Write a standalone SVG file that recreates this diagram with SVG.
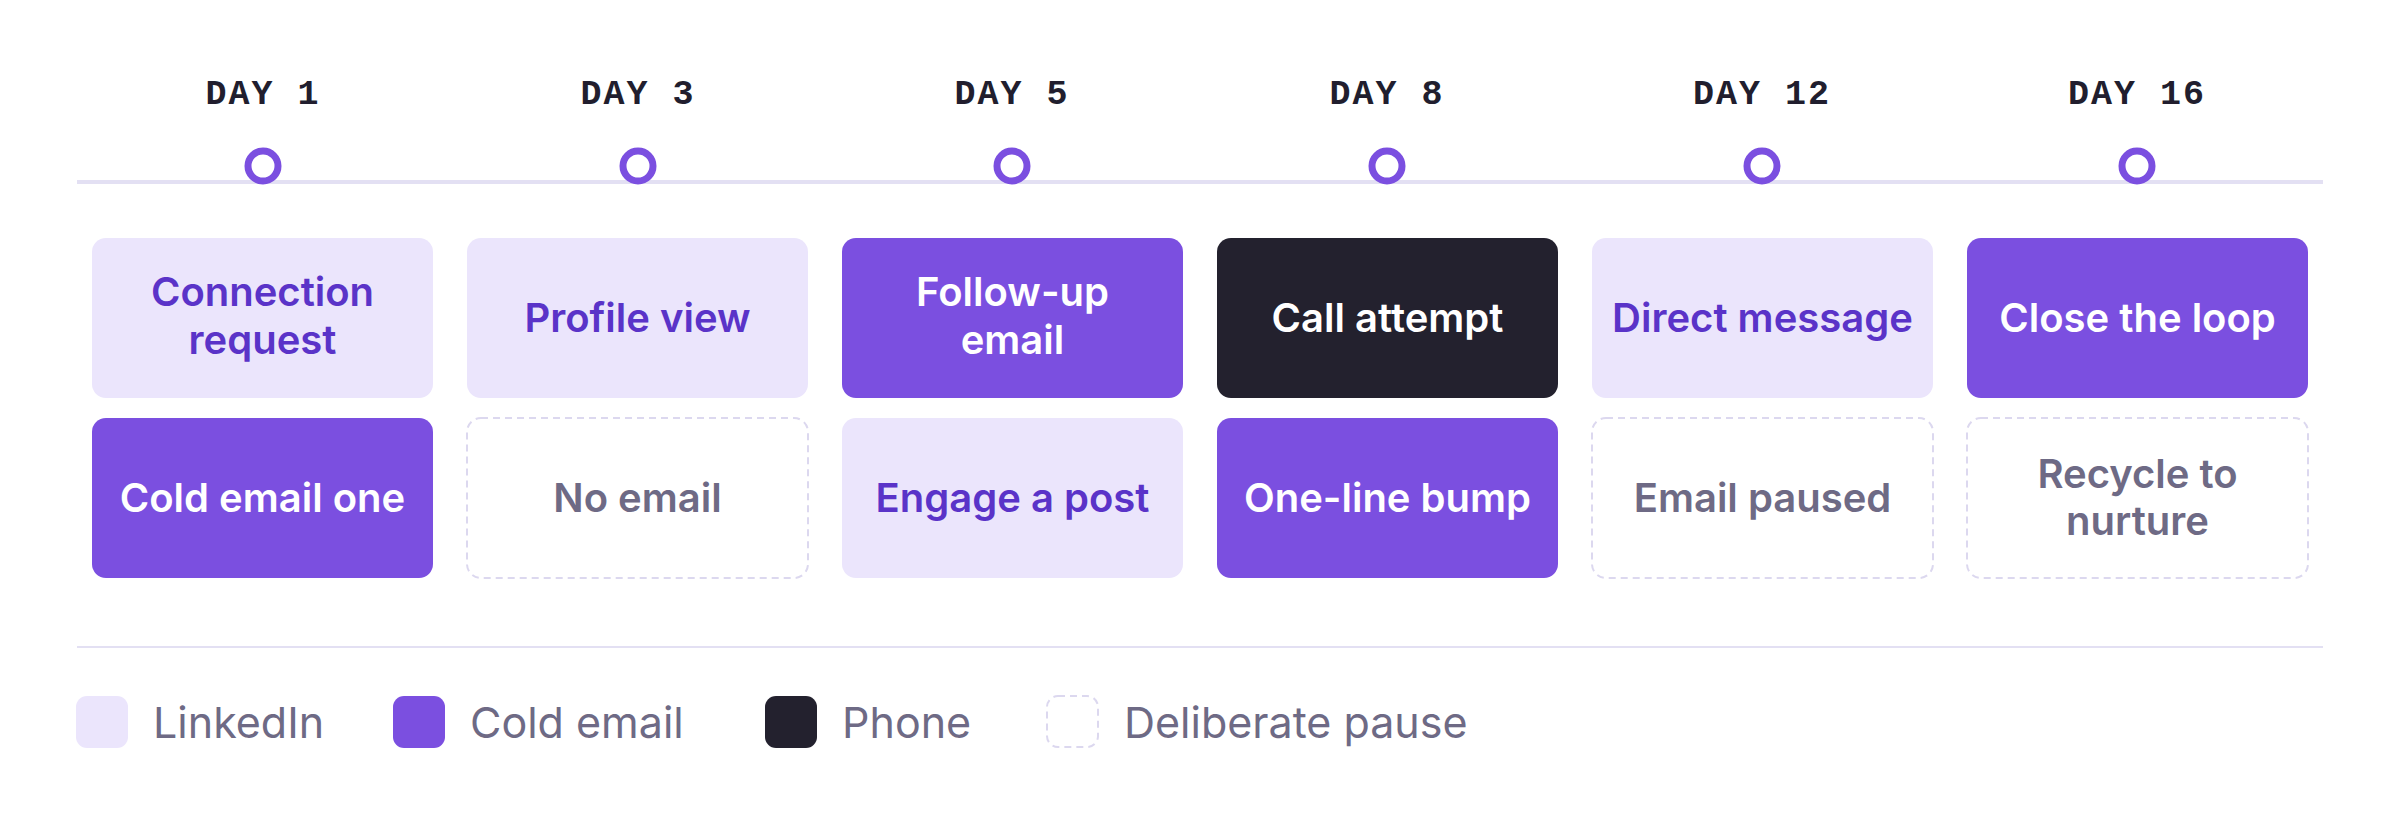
<svg xmlns="http://www.w3.org/2000/svg" width="2400" height="820" viewBox="0 0 2400 820">
<style>
.day{font-family:"Liberation Mono","Courier New",monospace;font-weight:700;font-size:35px;fill:#211e2e;letter-spacing:2px;text-anchor:middle}
.dot{fill:#fff;stroke:#7b4fe0;stroke-width:7}
.track{stroke:#e3e0f3;stroke-width:4}
.rule{stroke:#e3e0f3;stroke-width:2}
.li{fill:#ebe5fc}
.em{fill:#7b4fe0}
.ph{fill:#23212e}
.pa{fill:#fff;stroke:#dcd8ef;stroke-width:2;stroke-dasharray:7 5}
.t{font-family:Inter,"Liberation Sans",sans-serif;font-weight:600;font-size:40px;text-anchor:middle}
.tli{fill:#5a33c8}
.tw{fill:#fff}
.tpa{fill:#6e6a85}
.lg{font-family:Inter,"Liberation Sans",sans-serif;font-size:43px;fill:#6e6a85}
</style>
<g id="timeline">
<line class="track" x1="77" y1="182" x2="2323" y2="182"/>
</g>
<g id="days">
<g id="day1"><text class="day" x="263" y="104">DAY 1</text><circle class="dot" cx="263" cy="166" r="15"/></g>
<g id="day3"><text class="day" x="638" y="104">DAY 3</text><circle class="dot" cx="638" cy="166" r="15"/></g>
<g id="day5"><text class="day" x="1012" y="104">DAY 5</text><circle class="dot" cx="1012" cy="166" r="15"/></g>
<g id="day8"><text class="day" x="1387" y="104">DAY 8</text><circle class="dot" cx="1387" cy="166" r="15"/></g>
<g id="day12"><text class="day" x="1762" y="104">DAY 12</text><circle class="dot" cx="1762" cy="166" r="15"/></g>
<g id="day16"><text class="day" x="2137" y="104">DAY 16</text><circle class="dot" cx="2137" cy="166" r="15"/></g>
</g>
<g id="connectors"></g>
<g id="n1a"><rect class="li" x="92" y="238" width="341" height="160" rx="14"/><text class="t tli" x="262.5" y="306">Connection</text><text class="t tli" x="262.5" y="354">request</text></g>
<g id="n1b"><rect class="em" x="92" y="418" width="341" height="160" rx="14"/><text class="t tw" x="262.5" y="512">Cold email one</text></g>
<g id="n2a"><rect class="li" x="467" y="238" width="341" height="160" rx="14"/><text class="t tli" x="637.5" y="332">Profile view</text></g>
<g id="n2b"><rect class="pa" x="467" y="418" width="341" height="160" rx="14"/><text class="t tpa" x="637.5" y="512">No email</text></g>
<g id="n3a"><rect class="em" x="842" y="238" width="341" height="160" rx="14"/><text class="t tw" x="1012.5" y="306">Follow-up</text><text class="t tw" x="1012.5" y="354">email</text></g>
<g id="n3b"><rect class="li" x="842" y="418" width="341" height="160" rx="14"/><text class="t tli" x="1012.5" y="512">Engage a post</text></g>
<g id="n4a"><rect class="ph" x="1217" y="238" width="341" height="160" rx="14"/><text class="t tw" x="1387.5" y="332">Call attempt</text></g>
<g id="n4b"><rect class="em" x="1217" y="418" width="341" height="160" rx="14"/><text class="t tw" x="1387.5" y="512">One-line bump</text></g>
<g id="n5a"><rect class="li" x="1592" y="238" width="341" height="160" rx="14"/><text class="t tli" x="1762.5" y="332">Direct message</text></g>
<g id="n5b"><rect class="pa" x="1592" y="418" width="341" height="160" rx="14"/><text class="t tpa" x="1762.5" y="512">Email paused</text></g>
<g id="n6a"><rect class="em" x="1967" y="238" width="341" height="160" rx="14"/><text class="t tw" x="2137.5" y="332">Close the loop</text></g>
<g id="n6b"><rect class="pa" x="1967" y="418" width="341" height="160" rx="14"/><text class="t tpa" x="2137.5" y="488">Recycle to</text><text class="t tpa" x="2137.5" y="535">nurture</text></g>
<g id="legend">
<line class="rule" x1="77" y1="647" x2="2323" y2="647"/>
<rect class="li" x="76" y="696" width="52" height="52" rx="11"/><text class="lg" x="153" y="738">LinkedIn</text>
<rect class="em" x="393" y="696" width="52" height="52" rx="11"/><text class="lg" x="470" y="738">Cold email</text>
<rect class="ph" x="765" y="696" width="52" height="52" rx="11"/><text class="lg" x="842" y="738">Phone</text>
<rect class="pa" x="1047" y="696" width="51" height="51" rx="11"/><text class="lg" x="1124" y="738">Deliberate pause</text>
</g>
</svg>
